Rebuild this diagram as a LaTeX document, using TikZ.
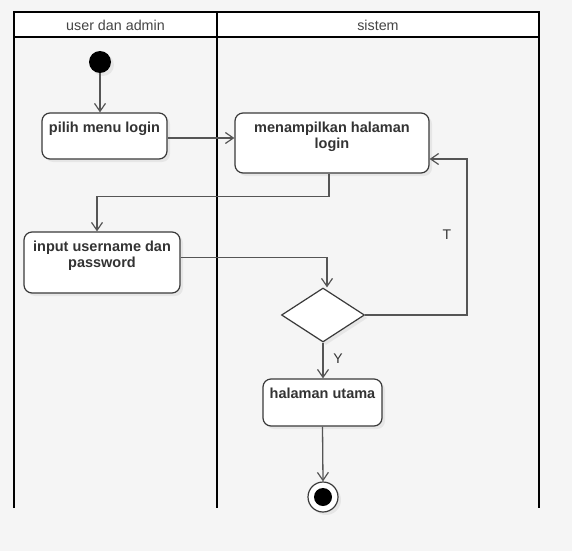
\documentclass[tikz,border=0pt]{standalone}
\usepackage{fontspec}
\setmainfont{Liberation Sans}
\usetikzlibrary{arrows.meta,shapes.geometric,shadows}

\definecolor{paper}{HTML}{F5F5F5}
\definecolor{edge}{HTML}{3A3A3A}
\definecolor{ink}{HTML}{333333}
\definecolor{wire}{HTML}{555555}
\definecolor{headink}{HTML}{444444}

% fixed-size box content with the text set at the top
\newcommand\acttext[3]{\parbox[c][#2][t]{#1}{\centering\vspace*{9pt}#3\par}}

\tikzset{
  lane/.style={line width=2pt, black},
  hdr/.style={text=headink, font=\fontsize{14.3}{16}\selectfont, inner sep=0pt},
  act/.style={draw=edge, line width=1.2pt, fill=white, rounded corners=8pt, inner sep=0pt,
    text=ink, font=\bfseries\fontsize{14.5}{15.5}\selectfont,
    drop shadow={opacity=0.12, shadow xshift=3pt, shadow yshift=-3pt}},
  decision/.style={diamond, draw=edge, line width=1.2pt, fill=white, inner sep=0pt,
    minimum width=83pt, minimum height=54pt, aspect=1.55,
    drop shadow={opacity=0.12, shadow xshift=3pt, shadow yshift=-3pt}},
  startdot/.style={circle, fill=black, minimum size=22pt, inner sep=0pt,
    drop shadow={opacity=0.12, shadow xshift=3pt, shadow yshift=-3pt}},
  enddot/.style={circle, draw=edge, line width=1.2pt, fill=white, minimum size=30pt, inner sep=0pt,
    drop shadow={opacity=0.12, shadow xshift=3pt, shadow yshift=-3pt}},
  flow/.style={draw=wire, line width=1.3pt, -{Straight Barb[length=8pt,width=11pt,line width=1.2pt]}},
  guard/.style={text=ink, font=\fontsize{14}{16}\selectfont, inner sep=0pt}
}

\begin{document}
\begin{tikzpicture}[x=1pt, y=-1pt]
\useasboundingbox (0,0) rectangle (572,551);
\fill[paper] (0,0) rectangle (572,551);

% swimlanes
\fill[white] (14,12) rectangle (539,37);
\draw[lane] (14,508) -- (14,12) -- (539,12) -- (539,508);
\draw[lane] (14,37) -- (539,37);
\draw[lane] (217,12) -- (217,508);
\node[hdr] (laneA) at (115.5,25) {user dan admin};
\node[hdr] (laneB) at (378,25) {sistem};

% activities
\node[startdot] (start) at (100,62) {};
\node[act] (pilih) at (104.5,136) {\acttext{125pt}{46pt}{pilih menu login}};
\node[act] (tampil) at (332,143) {\acttext{194pt}{60pt}{menampilkan halaman\\login}};
\node[act] (input) at (102,262.5) {\acttext{156pt}{61pt}{input username dan\\password}};
\node[decision] (dec) at (323,315) {};
\node[act] (utama) at (322.5,402.5) {\acttext{119pt}{47pt}{halaman utama}};
\node[enddot] (end) at (323,497) {};
\fill[black] (end.center) circle (9);

% attachment points of the connectors
\coordinate (pilihOut) at ([yshift=-2pt]pilih.east);
\coordinate (tampilOut) at ([xshift=-3pt]tampil.south);
\coordinate (inputIn) at ([xshift=-5pt]input.north);
\coordinate (inputOut) at ([yshift=5pt]input.east);
\coordinate (decIn) at ([xshift=4pt]dec.north);
\coordinate (tampilBack) at ([yshift=-16pt]tampil.east);

% flows
\draw[flow] (start) -- (start |- pilih.north);
\draw[flow] (pilihOut) -- (tampil.west |- pilihOut);
\draw[flow] (tampilOut) -- ++(0,23) -| (inputIn);
\draw[flow] (inputOut) -| (decIn);
\draw[flow] (dec.east) -- ++(102,0) |- (tampilBack);
\node[guard] (gT) at (447,235) {T};
\draw[flow] (dec.south) -- (dec.south |- utama.north);
\node[guard] (gY) at (338,359) {Y};
\draw[flow] (utama.south) -- (end.north);
\end{tikzpicture}
\end{document}
